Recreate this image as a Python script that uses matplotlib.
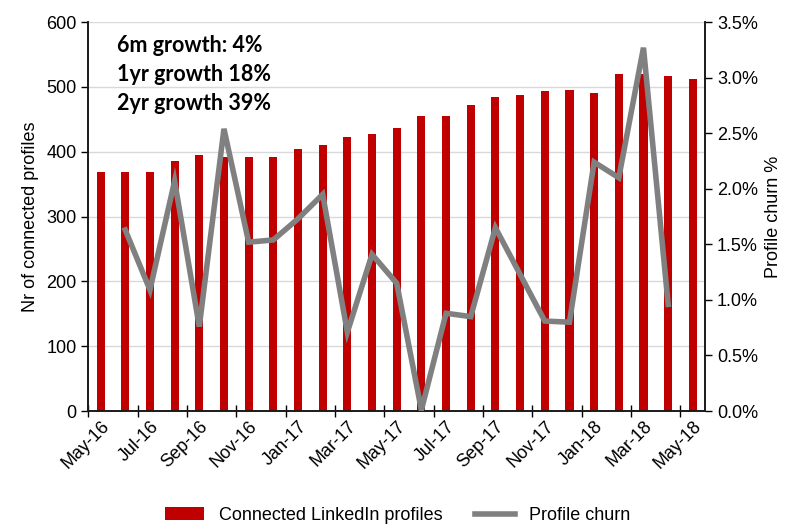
import numpy as np
import matplotlib
matplotlib.use('Agg')
import matplotlib.pyplot as plt
from matplotlib.ticker import FuncFormatter, MultipleLocator

plt.rcParams['font.family'] = ['Liberation Sans', 'DejaVu Sans']

# data
months = ['May-16', 'Jun-16', 'Jul-16', 'Aug-16', 'Sep-16', 'Oct-16', 'Nov-16', 'Dec-16',
          'Jan-17', 'Feb-17', 'Mar-17', 'Apr-17', 'May-17', 'Jun-17', 'Jul-17', 'Aug-17',
          'Sep-17', 'Oct-17', 'Nov-17', 'Dec-17', 'Jan-18', 'Feb-18', 'Mar-18', 'Apr-18', 'May-18']
profiles = [369, 369, 369, 385, 395, 392, 392, 392, 405, 410, 423, 428, 437,
            455, 455, 472, 485, 487, 493, 495, 490, 520, 520, 517, 513]
# churn in %, no value for the first and last month
churn = [np.nan, 1.63, 1.09, 2.07, 0.76, 2.54, 1.52, 1.54, 1.73, 1.95, 0.71, 1.41, 1.15,
         0.01, 0.88, 0.85, 1.65, 1.23, 0.81, 0.80, 2.24, 2.10, 3.27, 0.96, np.nan]

x = np.arange(len(months))

fig = plt.figure(figsize=(7.95, 5.27), dpi=100)
ax = fig.add_axes([0.111, 0.22, 0.776, 0.738])
ax2 = ax.twinx()

bars = ax.bar(x, profiles, width=0.33, color='#C00000', zorder=2,
              label='Connected LinkedIn profiles')
line, = ax2.plot(x, churn, color='#808080', lw=4, solid_joinstyle='miter',
                 label='Profile churn', zorder=3)

ax.set_xlim(-0.5, len(months) - 0.5)
ax.set_ylim(0, 600)
ax.yaxis.set_major_locator(MultipleLocator(100))
ax.grid(axis='y', color='#d9d9d9', lw=1, zorder=0)
ax.set_axisbelow(True)

ax2.set_ylim(0, 3.5)
ax2.yaxis.set_major_locator(MultipleLocator(0.5))
ax2.yaxis.set_major_formatter(FuncFormatter(lambda v, p: '%.1f%%' % v))

# ticks every two months at the category borders, labels on every second category
ax.set_xticks(np.arange(-0.5, len(months), 2))
ax.set_xticklabels([])
ax.set_xticks(x[::2], minor=True)
ax.set_xticklabels(months[::2], minor=True, rotation=45, ha='right', rotation_mode='anchor',
                   fontsize=13)
ax.tick_params(axis='x', which='minor', length=0, pad=5)
ax.tick_params(axis='x', which='major', direction='inout', length=8, width=1)
ax.tick_params(axis='y', labelsize=13, length=5, width=1)
ax2.tick_params(axis='y', labelsize=13, length=5, width=1)

for a in (ax, ax2):
    a.spines['top'].set_visible(False)
    for s in ('left', 'right', 'bottom'):
        a.spines[s].set_color('#1a1a1a')
        a.spines[s].set_linewidth(1.2)

ax.set_ylabel('Nr of connected profiles', fontsize=13, labelpad=5)
ax2.set_ylabel('Profile churn %', fontsize=13, labelpad=5)

for i, t in enumerate(['6m growth: 4%', '1yr growth 18%', '2yr growth 39%']):
    ax.text(0.047, 0.94 - i * 0.075, t, transform=ax.transAxes, fontsize=15.5,
            fontweight='bold', family=['Lato', 'DejaVu Sans'], va='center', ha='left')

fig.legend([bars, line], ['Connected LinkedIn profiles', 'Profile churn'],
           loc='lower center', bbox_to_anchor=(0.5, -0.025), ncol=2, frameon=False,
           fontsize=13, handlelength=2.2, handleheight=0.7, columnspacing=1.8)

fig.savefig('out.png', dpi=100)
